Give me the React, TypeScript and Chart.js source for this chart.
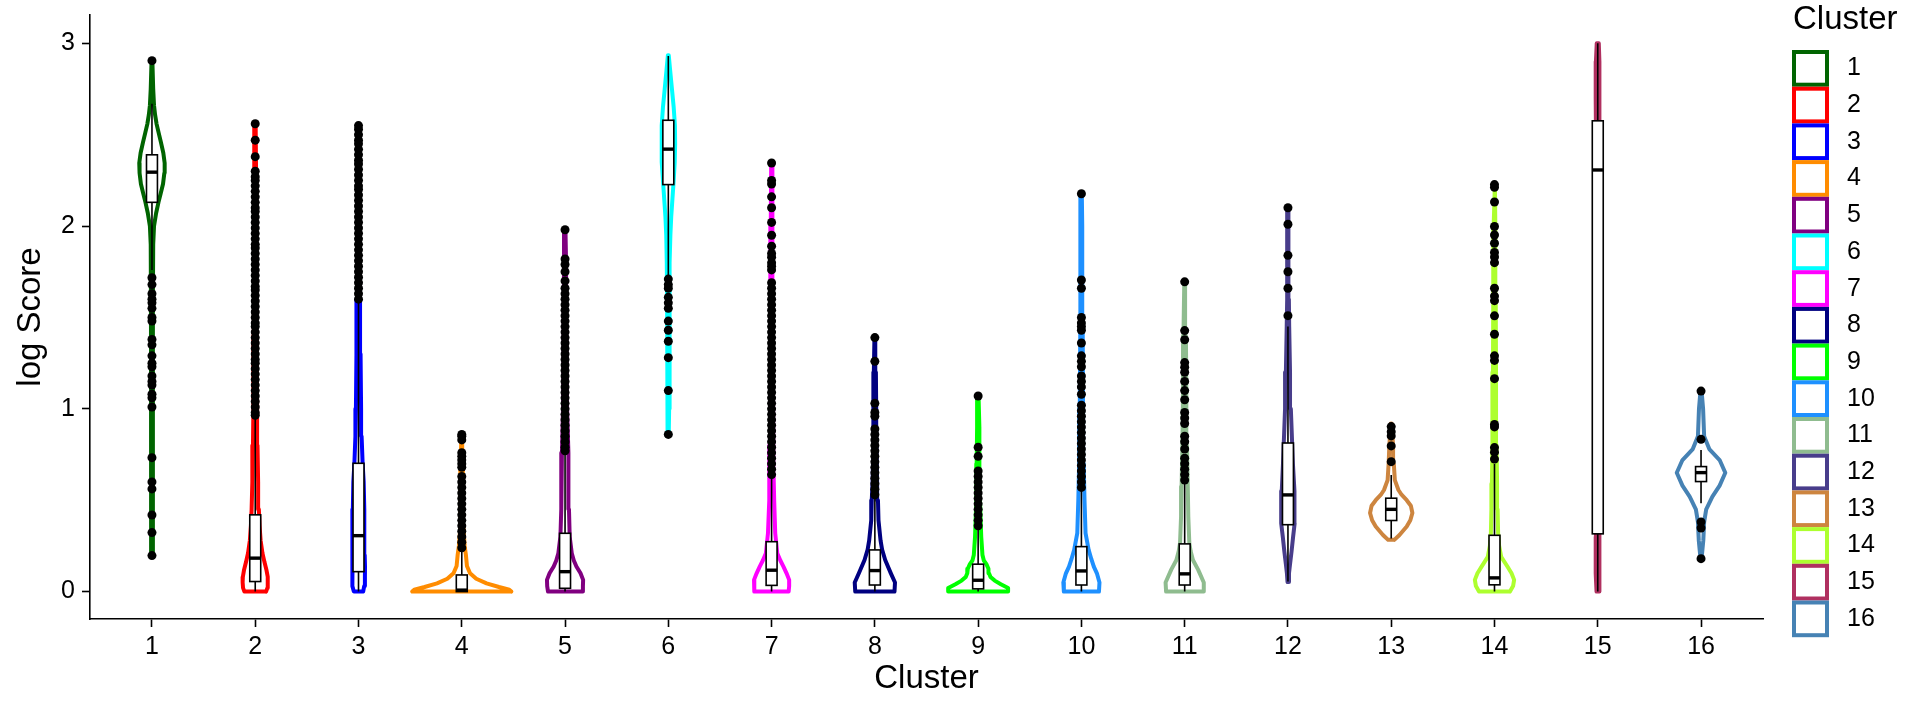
import { useEffect, useRef } from 'react';
import Chart from 'chart.js/auto';
import type { Plugin, Scale } from 'chart.js';

const fontFamily = '"Liberation Sans", Arial, Helvetica, sans-serif';

const clusters = ['1', '2', '3', '4', '5', '6', '7', '8', '9', '10', '11', '12', '13', '14', '15', '16'];
const clusterColors = [
  '#006400', '#FF0000', '#0000FF', '#FF8C00', '#800080', '#00FFFF', '#FF00FF', '#000080',
  '#00FF00', '#1E90FF', '#8FBC8F', '#483D8B', '#CD853F', '#ADFF2F', '#B03060', '#4682B4',
];
const yTicks = [0, 1, 2, 3];
const xTitle = 'Cluster';
const yTitle = 'log Score';
const legendTitle = 'Cluster';

// box plot statistics per cluster
const boxQ1 = [2.13, 0.055, 0.109, 0, 0.018, 2.227, 0.034, 0.036, 0.015, 0.036, 0.036, 0.366, 0.389, 0.037, 0.316, 0.602];
const boxMedian = [2.295, 0.183, 0.306, 0.008, 0.109, 2.421, 0.117, 0.115, 0.062, 0.113, 0.097, 0.529, 0.45, 0.075, 2.307, 0.651];
const boxQ3 = [2.39, 0.42, 0.702, 0.091, 0.319, 2.579, 0.273, 0.228, 0.15, 0.246, 0.261, 0.813, 0.511, 0.308, 2.576, 0.684];
const whiskerLow = [1.76, 0, 0, 0, 0, 1.73, 0, 0, 0, 0, 0, 0.055, 0.29, 0, 0, 0.484];
const whiskerHigh = [2.67, 0.96, 1.59, 0.228, 0.77, 2.93, 0.63, 0.516, 0.35, 0.56, 0.6, 1.45, 0.638, 0.7, 3.0, 0.775];

// violin outline: levels (log score) and half widths (in cluster units)
const violinLevels: number[][] = [
  [0.197, 0.4, 0.8, 1.2, 1.6, 1.9, 2.0, 2.07, 2.13, 2.18, 2.23, 2.29, 2.345, 2.4, 2.458, 2.51, 2.558, 2.61, 2.66, 2.75, 2.905],
  [0, 0.02, 0.05, 0.08, 0.12, 0.16, 0.21, 0.28, 0.36, 0.45, 0.6, 0.8, 1.0, 1.4, 1.8, 2.2, 2.558],
  [0, 0.03, 0.08, 0.137, 0.2, 0.3, 0.45, 0.6, 0.7, 0.85, 1.0, 1.3, 1.6, 2.0, 2.3, 2.55],
  [0, 0.01, 0.025, 0.045, 0.07, 0.1, 0.14, 0.2, 0.25, 0.35, 0.5, 0.7, 0.86],
  [0, 0.03, 0.064, 0.1, 0.137, 0.17, 0.21, 0.3, 0.45, 0.61, 0.76, 1.0, 1.4, 1.8, 1.98],
  [0.856, 1.0, 1.3, 1.6, 1.8, 1.95, 2.05, 2.15, 2.25, 2.35, 2.45, 2.55, 2.65, 2.75, 2.85, 2.935],
  [0, 0.03, 0.064, 0.1, 0.137, 0.17, 0.21, 0.32, 0.5, 0.63, 0.8, 1.2, 1.6, 2.0, 2.345],
  [0, 0.05, 0.1, 0.173, 0.23, 0.28, 0.39, 0.5, 0.6, 0.8, 1.0, 1.2, 1.39],
  [0, 0.02, 0.04, 0.06, 0.08, 0.1, 0.125, 0.15, 0.17, 0.2, 0.3, 0.5, 0.7, 0.9, 1.07],
  [0, 0.05, 0.1, 0.137, 0.18, 0.228, 0.32, 0.5, 0.7, 1.0, 1.5, 2.0, 2.177],
  [0, 0.05, 0.12, 0.173, 0.22, 0.265, 0.41, 0.575, 0.8, 1.1, 1.4, 1.69],
  [0.052, 0.1, 0.15, 0.22, 0.3, 0.374, 0.45, 0.55, 0.7, 0.85, 1.0, 1.2, 1.45, 1.6, 1.85, 2.1],
  [0.283, 0.31, 0.356, 0.39, 0.43, 0.47, 0.5, 0.53, 0.556, 0.61, 0.7, 0.8, 0.92],
  [0, 0.03, 0.064, 0.1, 0.137, 0.19, 0.25, 0.32, 0.45, 0.59, 0.8, 1.2, 1.6, 2.0, 2.23],
  [0, 0.1, 0.3, 0.6, 1.0, 1.5, 2.0, 2.4, 2.7, 2.9, 3.0],
  [0.18, 0.28, 0.38, 0.45, 0.52, 0.58, 0.65, 0.72, 0.78, 0.85, 1.0, 1.1],
];
const violinHalfWidths: number[][] = [
  [0.008, 0.008, 0.009, 0.009, 0.01, 0.012, 0.02, 0.04, 0.063, 0.085, 0.107, 0.12, 0.123, 0.11, 0.087, 0.065, 0.045, 0.03, 0.02, 0.012, 0.004],
  [0.105, 0.118, 0.122, 0.12, 0.108, 0.09, 0.07, 0.052, 0.042, 0.035, 0.028, 0.022, 0.018, 0.014, 0.011, 0.008, 0.004],
  [0.045, 0.055, 0.062, 0.063, 0.06, 0.057, 0.055, 0.05, 0.04, 0.03, 0.025, 0.02, 0.015, 0.01, 0.008, 0.004],
  [0.48, 0.46, 0.36, 0.24, 0.14, 0.08, 0.05, 0.04, 0.028, 0.016, 0.012, 0.01, 0.004],
  [0.165, 0.173, 0.175, 0.15, 0.11, 0.085, 0.065, 0.045, 0.038, 0.035, 0.03, 0.02, 0.014, 0.01, 0.004],
  [0.004, 0.008, 0.01, 0.012, 0.015, 0.02, 0.028, 0.04, 0.052, 0.062, 0.066, 0.064, 0.052, 0.035, 0.018, 0.004],
  [0.165, 0.17, 0.17, 0.145, 0.115, 0.085, 0.055, 0.035, 0.025, 0.02, 0.016, 0.013, 0.011, 0.008, 0.004],
  [0.19, 0.195, 0.155, 0.1, 0.07, 0.055, 0.035, 0.03, 0.022, 0.016, 0.013, 0.01, 0.004],
  [0.29, 0.29, 0.22, 0.16, 0.12, 0.105, 0.1, 0.08, 0.055, 0.042, 0.03, 0.018, 0.014, 0.01, 0.004],
  [0.17, 0.175, 0.15, 0.12, 0.095, 0.07, 0.04, 0.03, 0.022, 0.016, 0.012, 0.008, 0.004],
  [0.18, 0.185, 0.13, 0.08, 0.058, 0.045, 0.035, 0.03, 0.022, 0.016, 0.012, 0.004],
  [0.004, 0.01, 0.02, 0.035, 0.05, 0.065, 0.066, 0.06, 0.048, 0.038, 0.028, 0.02, 0.012, 0.009, 0.006, 0.003],
  [0.03, 0.08, 0.15, 0.185, 0.205, 0.19, 0.15, 0.1, 0.07, 0.035, 0.025, 0.018, 0.004],
  [0.15, 0.18, 0.19, 0.165, 0.125, 0.065, 0.045, 0.035, 0.03, 0.025, 0.02, 0.015, 0.012, 0.008, 0.004],
  [0.012, 0.02, 0.018, 0.014, 0.012, 0.012, 0.013, 0.016, 0.02, 0.018, 0.01],
  [0.005, 0.022, 0.03, 0.05, 0.11, 0.18, 0.235, 0.18, 0.08, 0.03, 0.02, 0.005],
];

// outlier points per cluster
const outlierValues: number[][] = [
  [2.905, 1.717, 1.68, 1.63, 1.6, 1.58, 1.55, 1.5, 1.48, 1.38, 1.35, 1.29, 1.25, 1.23, 1.18, 1.15, 1.13, 1.08, 1.06, 1.01, 0.733, 0.6, 0.562, 0.419, 0.323, 0.197],
  [2.56, 2.47, 2.38, 2.3, 2.27, 2.25, 2.22, 2.19, 2.16, 2.13, 2.1, 2.08, 2.05, 2.02, 1.99, 1.96, 1.93, 1.9, 1.88, 1.85, 1.82, 1.79, 1.76, 1.73, 1.7, 1.67, 1.65, 1.62, 1.59, 1.56, 1.53, 1.5, 1.47, 1.45, 1.42, 1.39, 1.36, 1.33, 1.3, 1.27, 1.25, 1.22, 1.19, 1.16, 1.13, 1.1, 1.07, 1.04, 1.01, 0.98, 0.965],
  [2.55, 2.53, 2.5, 2.47, 2.45, 2.42, 2.39, 2.36, 2.34, 2.31, 2.28, 2.25, 2.22, 2.2, 2.17, 2.14, 2.11, 2.08, 2.05, 2.02, 1.99, 1.96, 1.93, 1.9, 1.87, 1.84, 1.81, 1.78, 1.75, 1.72, 1.69, 1.66, 1.63, 1.6],
  [0.86, 0.85, 0.83, 0.76, 0.74, 0.72, 0.7, 0.68, 0.63, 0.6, 0.57, 0.54, 0.51, 0.48, 0.45, 0.42, 0.39, 0.36, 0.33, 0.3, 0.27, 0.24],
  [1.98, 1.82, 1.79, 1.75, 1.7, 1.66, 1.63, 1.6, 1.57, 1.54, 1.51, 1.48, 1.45, 1.42, 1.39, 1.36, 1.33, 1.3, 1.27, 1.24, 1.21, 1.18, 1.15, 1.12, 1.09, 1.06, 1.03, 1.0, 0.97, 0.94, 0.91, 0.88, 0.85, 0.82, 0.79, 0.77],
  [1.71, 1.68, 1.66, 1.61, 1.58, 1.55, 1.48, 1.43, 1.37, 1.28, 1.1, 0.86],
  [2.345, 2.25, 2.23, 2.16, 2.1, 2.02, 1.95, 1.89, 1.85, 1.83, 1.8, 1.78, 1.76, 1.69, 1.66, 1.63, 1.6, 1.57, 1.54, 1.51, 1.48, 1.45, 1.42, 1.39, 1.36, 1.33, 1.3, 1.27, 1.24, 1.21, 1.18, 1.15, 1.12, 1.09, 1.06, 1.03, 1.0, 0.97, 0.94, 0.91, 0.88, 0.85, 0.82, 0.79, 0.76, 0.73, 0.7, 0.67, 0.64],
  [1.39, 1.26, 1.03, 0.98, 0.96, 0.89, 0.86, 0.83, 0.8, 0.77, 0.74, 0.71, 0.68, 0.65, 0.62, 0.59, 0.56, 0.53],
  [1.07, 0.79, 0.74, 0.66, 0.63, 0.6, 0.57, 0.54, 0.51, 0.48, 0.45, 0.42, 0.39, 0.36],
  [2.177, 1.705, 1.66, 1.5, 1.47, 1.45, 1.43, 1.36, 1.29, 1.26, 1.23, 1.18, 1.15, 1.12, 1.08, 1.02, 0.99, 0.96, 0.93, 0.9, 0.87, 0.84, 0.81, 0.78, 0.75, 0.72, 0.69, 0.66, 0.63, 0.6, 0.57],
  [1.695, 1.428, 1.378, 1.253, 1.228, 1.2, 1.15, 1.1, 1.05, 0.98, 0.95, 0.92, 0.85, 0.82, 0.78, 0.73, 0.7, 0.67, 0.64, 0.61],
  [2.1, 2.01, 1.84, 1.75, 1.66, 1.51],
  [0.903, 0.875, 0.852, 0.797, 0.711],
  [2.227, 2.212, 2.132, 1.998, 1.951, 1.906, 1.856, 1.831, 1.8, 1.66, 1.617, 1.592, 1.509, 1.408, 1.29, 1.265, 1.165, 0.914, 0.901, 0.788, 0.763, 0.725],
  [],
  [1.097, 0.833, 0.381, 0.348, 0.18],
];

const boxHalfWidth = 0.053;

function violinOutline(i: number) {
  const center = i + 1;
  const levels = violinLevels[i];
  const widths = violinHalfWidths[i];
  const right = levels.map((y, k) => ({ x: center + widths[k], y }));
  const left = levels.map((y, k) => ({ x: center - widths[k], y })).reverse();
  return [...right, ...left, right[0]];
}

const boxPlugin: Plugin<'line'> = {
  id: 'boxes',
  afterDatasetsDraw(chart) {
    const { ctx } = chart;
    const x = chart.scales.x;
    const y = chart.scales.y;
    ctx.save();
    ctx.strokeStyle = '#000';
    clusters.forEach((_, i) => {
      const cx = x.getPixelForValue(i + 1);
      const left = x.getPixelForValue(i + 1 - boxHalfWidth);
      const right = x.getPixelForValue(i + 1 + boxHalfWidth);
      const top = y.getPixelForValue(boxQ3[i]);
      const bottom = y.getPixelForValue(boxQ1[i]);
      ctx.lineWidth = 1.6;
      ctx.beginPath();
      ctx.moveTo(cx, y.getPixelForValue(whiskerHigh[i]));
      ctx.lineTo(cx, top);
      ctx.moveTo(cx, bottom);
      ctx.lineTo(cx, y.getPixelForValue(whiskerLow[i]));
      ctx.stroke();
      ctx.fillStyle = '#fff';
      ctx.fillRect(left, top, right - left, bottom - top);
      ctx.strokeRect(left, top, right - left, bottom - top);
      const med = y.getPixelForValue(boxMedian[i]);
      ctx.lineWidth = 3.4;
      ctx.beginPath();
      ctx.moveTo(left, med);
      ctx.lineTo(right, med);
      ctx.stroke();
    });
    ctx.restore();
  },
};

const legendPlugin: Plugin<'line'> = {
  id: 'clusterLegend',
  afterDraw(chart) {
    const { ctx, chartArea } = chart;
    const left = chartArea.right + 29;
    ctx.save();
    ctx.textAlign = 'left';
    ctx.textBaseline = 'middle';
    ctx.fillStyle = '#000';
    ctx.font = `33px ${fontFamily}`;
    ctx.fillText(legendTitle, left + 1, 20);
    ctx.font = `25px ${fontFamily}`;
    clusters.forEach((label, i) => {
      const top = 52 + i * 36.7;
      ctx.fillStyle = '#fff';
      ctx.fillRect(left + 2, top, 33, 32.7);
      ctx.strokeStyle = clusterColors[i];
      ctx.lineWidth = 4;
      ctx.strokeRect(left + 2, top, 33, 32.7);
      ctx.fillStyle = '#000';
      ctx.fillText(label, left + 55, top + 16.5);
    });
    ctx.restore();
  },
};

export default function App() {
  const canvasRef = useRef<HTMLCanvasElement | null>(null);

  useEffect(() => {
    if (!canvasRef.current) {
      return;
    }

    const outlierPoints = outlierValues.flatMap((values, i) =>
      values.map((v) => ({ x: i + 1, y: v })),
    );

    const chart = new Chart(canvasRef.current, {
      type: 'line',
      data: {
        datasets: [
          {
            type: 'scatter',
            label: 'outliers',
            data: outlierPoints,
            pointRadius: 4.5,
            pointBackgroundColor: '#000',
            pointBorderWidth: 0,
            showLine: false,
          },
          ...clusters.map((label, i) => ({
            type: 'line' as const,
            label,
            data: violinOutline(i),
            borderColor: clusterColors[i],
            backgroundColor: '#fff',
            borderWidth: 4,
            pointRadius: 0,
            tension: 0,
            fill: false,
            borderJoinStyle: 'round' as const,
            borderCapStyle: 'round' as const,
          })),
        ],
      },
      options: {
        animation: false,
        responsive: false,
        devicePixelRatio: 1,
        layout: { padding: { top: 15, right: 157, left: 0, bottom: 0 } },
        plugins: {
          legend: { display: false },
          tooltip: { enabled: false },
        },
        scales: {
          x: {
            type: 'linear',
            min: 0.4,
            max: 16.6,
            afterBuildTicks: (scale: Scale) => {
              scale.ticks = clusters.map((_, i) => ({ value: i + 1 }));
            },
            afterFit: (scale: Scale) => {
              scale.height = 101;
              scale.paddingLeft = 0;
              scale.paddingRight = 0;
            },
            ticks: {
              autoSkip: false,
              maxRotation: 0,
              padding: 5,
              color: '#000',
              font: { family: fontFamily, size: 25 },
              callback: (value) => clusters[Number(value) - 1] ?? '',
            },
            grid: {
              drawOnChartArea: false,
              drawTicks: true,
              tickLength: 8,
              tickWidth: 1.6,
              tickColor: '#000',
            },
            border: { display: true, color: '#000', width: 1.6 },
            title: {
              display: true,
              text: xTitle,
              color: '#000',
              font: { family: fontFamily, size: 33 },
              padding: { top: 0, bottom: 21 },
            },
          },
          y: {
            type: 'linear',
            min: -0.15,
            max: 3.155,
            afterBuildTicks: (scale: Scale) => {
              scale.ticks = yTicks.map((v) => ({ value: v }));
            },
            afterFit: (scale: Scale) => {
              scale.width = 90;
              scale.paddingTop = 0;
              scale.paddingBottom = 0;
            },
            ticks: {
              padding: 7,
              color: '#000',
              font: { family: fontFamily, size: 25 },
              callback: (value) => String(value),
            },
            grid: {
              drawOnChartArea: false,
              drawTicks: true,
              tickLength: 8,
              tickWidth: 1.6,
              tickColor: '#000',
            },
            border: { display: true, color: '#000', width: 1.6 },
            title: {
              display: true,
              text: yTitle,
              color: '#000',
              font: { family: fontFamily, size: 33 },
              padding: { top: 11, bottom: 0 },
            },
          },
        },
      },
      plugins: [boxPlugin, legendPlugin],
    });

    return () => {
      chart.destroy();
    };
  }, []);

  return (
    <div
      style={{
        position: 'fixed',
        left: 0,
        top: 0,
        width: 1920,
        height: 720,
        background: '#fff',
      }}
    >
      <canvas ref={canvasRef} width={1920} height={720} />
    </div>
  );
}
